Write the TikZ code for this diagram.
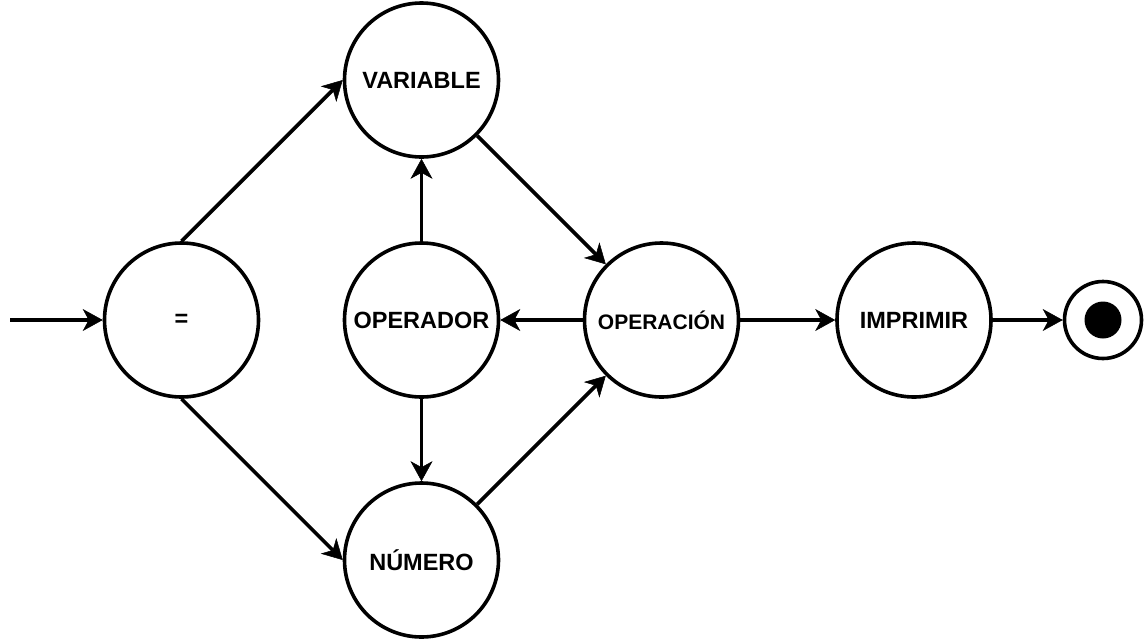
\documentclass[tikz,border=0pt]{standalone}
\usepackage{fontspec}
\setmainfont{Liberation Sans}
\usetikzlibrary{arrows.meta}
\begin{document}
\begin{tikzpicture}[x=1pt,y=-1pt,
  state/.style={circle,draw=black,line width=3.6pt,minimum size=154pt,inner sep=0pt,
    font=\fontsize{23.5}{28}\selectfont\bfseries},
  conn/.style={line width=3.6pt,-{Stealth[length=20pt,width=22pt,inset=6pt,line width=0.5pt]}}]
\useasboundingbox (0,0) rectangle (1146,641);
\node[state] (eq) at (181.5,320) {=};
\node[state] (var) at (421.5,80) {VARIABLE};
\node[state] (op) at (421.5,320) {OPERADOR};
\node[state] (num) at (421.5,560) {NÚMERO};
\node[state,font=\fontsize{21}{25}\selectfont\bfseries] (oper) at (661.5,320) {OPERACIÓN};
\node[state] (imp) at (914,320) {IMPRIMIR};
\node[circle,draw=black,line width=3.6pt,minimum size=77pt,inner sep=0pt] (fin) at (1103,320) {};
\node[circle,fill=black,minimum size=37pt,inner sep=0pt] (dot) at (fin.center) {};
\coordinate (start) at (10,320);
\draw[conn] (start) -- (eq.west);
\draw[conn] (eq.north) -- (var.west);
\draw[conn] (eq.south) -- (num.west);
\draw[conn] (op.north) -- (var.south);
\draw[conn] (op.south) -- (num.north);
\draw[conn] (var.south east) -- (oper.north west);
\draw[conn] (num.north east) -- (oper.south west);
\draw[conn] (oper.west) -- (op.east);
\draw[conn] (oper.east) -- (imp.west);
\draw[conn] (imp.east) -- (fin.west);
\end{tikzpicture}
\end{document}
